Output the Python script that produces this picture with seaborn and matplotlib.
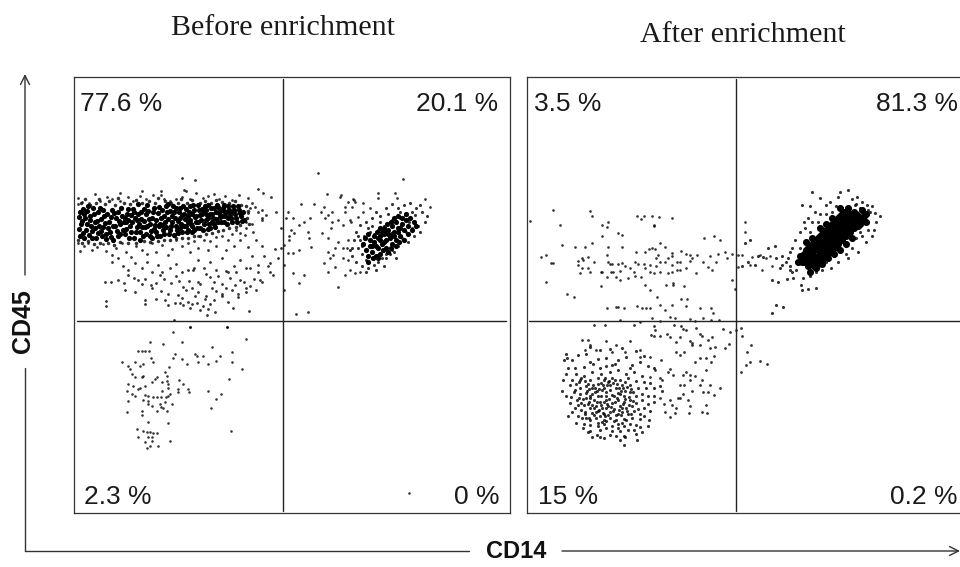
import matplotlib
matplotlib.use("Agg")
import matplotlib.pyplot as plt
import pandas as pd
import seaborn as sns

sns.set_theme(style="white")
plt.rcParams['font.family'] = ['Liberation Sans', 'DejaVu Sans']

# Event positions (scale = plot channel units)
before_band_core = [
(80,212),(81,224),(80,236),(85,218),(86,230),(88,206),(91,226),(92,238),(94,214),(97,221),(98,233),(100,208),(103,227),(104,216),(106,239),(109,222),(110,232),(112,210),(115,226),(116,218),(118,236),(121,208),(123,230),(124,222),(127,214),(129,238),(130,226),(133,209),(135,218),(136,232),(139,224),(141,212),(143,236),(145,227),(147,205),(149,219),(151,231),(153,212),(155,225),(157,236),(159,207),(161,218),(163,230),(165,222),(167,212),(169,234),(171,226),(173,206),(175,218),(177,230),(179,212),(181,224),(183,206),(185,219),(187,232),(189,212),(191,224),(193,205),(195,217),(197,228),(199,210),(201,220),(203,230),(205,206),(207,215),(209,224),(211,208),(213,218),(215,227),(217,205),(219,213),(221,222),(223,208),(225,216),(227,224),(229,210),(231,218),(233,206),(235,214),(237,222),(239,210),(241,216),(243,212),(244,220),
(83,209),(84,238),(95,228),(102,236),(113,240),(126,222),(138,204),(140,240),(152,238),(168,204),(176,226),(184,214),(192,232),(200,215),(208,229),(216,219),(224,211),(232,212),(90,220),(120,224),(146,214),(160,224),(172,216),(180,218),(188,222),(196,222),(204,212),(212,214),(220,217),(228,218),
(79,217),(79,229),(82,221),(83,233),(84,214),(87,224),(87,211),(89,235),(90,216),(92,231),(93,208),(95,222),(96,238),(98,212),(99,226),(101,219),(101,231),(103,210),(105,223),(106,234),(107,214),(108,228),(111,217),(111,237),(113,226),(114,213),(117,231),(118,212),(119,221),(120,234),(122,216),(125,234),(125,218),(126,229),(128,209),(128,220),(131,232),(131,215),(132,222),(134,238),(134,212),(137,227),(137,220),(138,214),(140,232),(141,219),(142,227),(144,209),(144,221),(146,234),(147,226),(148,211),(150,224),(150,236),(152,218),(154,229),(154,208),(156,220),(156,232),(158,213),(159,226),(160,236),(162,210),(162,225),(164,216),(164,234),(166,227),(166,206),(168,219),(170,211),(170,230),(172,222),(174,235),(174,212),(176,208),(178,221),(178,233),(180,208),(180,228),(182,215),(182,232),(184,226),(186,209),(186,226),(188,216),(188,230),(190,206),(190,220),(192,214),(192,226),(194,210),(194,230),(196,216),(198,205),(198,222),(200,228),(202,209),(202,214),(204,224),(206,210),(206,220),(208,205),(208,218),(210,214),(210,228),(212,222),(214,208),(214,224),(216,212),(218,207),(218,222),(220,211),(222,216),(224,205),(224,222),(226,212),(228,206),(230,214),(232,222),(234,210),(236,218),(238,206),(240,213),(242,221),
]
before_band_fringe = [
(81,203),(85,199),(90,205),(96,203),(99,199),(105,204),(109,201),(115,205),(118,198),(124,203),(130,204),(136,200),(142,203),(149,201),(155,203),(158,198),(165,201),(171,203),(178,203),(181,199),(187,203),(192,200),(200,203),(205,201),(211,203),(216,200),(222,202),(229,203),(235,201),(241,205),(246,206),(248,211),(247,218),(249,224),(240,225),(236,227),(229,228),(223,230),(218,231),(212,233),(206,234),(200,236),(194,236),(188,238),(182,238),(176,238),(170,240),(164,240),(158,241),(150,242),(144,241),(136,243),(128,243),(120,242),(114,245),(108,243),(100,243),(94,244),(88,241),(82,243),(78,240),
]
before_band_halo = [
(78,198),(78,204),(82,202),(89,203),(95,194),(100,201),(107,197),(112,199),(120,201),(128,197),(133,201),(140,196),(146,199),(153,195),(161,195),(164,199),(170,201),(176,199),(182,197),(186,191),(190,199),(196,193),(203,198),(208,196),(214,194),(219,199),(225,196),(232,200),(239,195),(248,198),(252,203),(258,189),(263,193),(271,197),(182,178),(195,180),(184,190),(161,191),(120,193),(142,191),
(250,208),(255,207),(248,213),(258,212),(262,210),(246,222),(252,224),(262,218),(266,215),(276,212),(281,228),(246,228),(253,232),(262,220),(245,235),(240,233),(236,230),(232,234),
(78,243),(80,251),(84,246),(88,243),(92,250),(97,247),(103,244),(106,251),(112,255),(116,248),(122,243),(126,252),(131,257),(136,246),(142,250),(147,254),(152,243),(156,252),(162,245),(168,255),(172,249),(176,240),(182,246),(188,243),(194,241),(198,236),(204,240),(210,241),(216,237),(222,236),(228,240),(234,246),(240,240),(248,247),(256,240),(262,246),(275,249),(281,248),(190,252),(198,248),(208,250),(216,246),(226,250),
]
before_lower_scatter = [
(112,262),(118,258),(123,266),(128,270),(135,263),(142,268),(147,262),(152,272),(158,265),(162,272),(170,268),(176,264),(182,272),(188,270),(194,268),(198,260),(204,268),(210,262),(216,270),(222,258),(228,272),(234,266),(240,260),(246,268),(252,256),(258,265),(264,256),(270,263),(278,258),(284,265),
(111,282),(118,280),(124,283),(128,275),(134,278),(138,280),(145,279),(151,285),(156,283),(160,275),(164,279),(171,283),(176,276),(179,281),(183,287),(189,281),(193,270),(198,282),(200,284),(206,274),(210,277),(214,282),(218,276),(222,284),(226,271),(230,278),(236,272),(240,280),(244,282),(250,268),(254,279),(258,272),(262,282),(268,266),(270,272),(273,275),
(105,282),(125,290),(135,292),(142,284),(152,288),(161,291),(168,294),(178,295),(186,290),(192,288),(198,292),(206,296),(212,288),(216,291),(222,294),(226,288),(232,290),(238,294),(246,288),(250,286),(256,290),(260,280),(235,285),(182,298),(156,299),(168,305),(188,302),(195,296),(205,299),(214,300),(222,296),(228,302),(238,297),(246,292),(233,308),
(106,301),(106,306),(145,300),(145,304),(165,300),(175,303),(180,303),(183,305),(190,308),(192,304),(197,303),(200,310),(203,306),(208,309),(210,304),(207,315),(215,312),(249,311),(174,320),(190,327),(227,327),
]
before_lower_left = [
(190,327),(227,327),(173,332),(246,339),(150,342),(163,344),(182,342),(212,347),(138,351),(142,351),(145,351),(149,351),(232,352),(151,358),(175,354),(173,358),(182,359),(195,354),(197,356),(203,356),(220,356),(216,361),(232,362),(198,362),(208,364),(187,364),(122,362),(128,366),(135,362),(140,366),(143,364),(153,362),(130,369),(169,367),(242,369),(165,372),(132,374),(135,377),(142,377),(143,376),(167,376),(157,377),(155,379),(152,382),(167,381),(162,382),(179,380),(183,384),(229,379),(168,384),(128,384),(133,386),(140,388),(145,386),(138,389),(127,391),(162,391),(168,388),(178,389),(178,392),(188,389),(189,392),(208,391),(221,394),(132,394),(135,396),(145,395),(148,396),(153,397),(157,397),(161,397),(166,397),(168,396),(170,394),(128,401),(143,400),(148,401),(165,402),(216,399),(148,404),(152,406),(160,404),(172,404),(161,407),(163,408),(157,411),(167,411),(211,408),(127,412),(142,411),(142,415),(148,422),(168,423),(137,429),(143,431),(147,432),(150,432),(153,433),(157,433),(231,431),(138,437),(148,437),(152,437),(145,442),(152,441),(170,441),(150,446),(147,448),(158,446),(409,493),
]
before_mid_sparse = [
(318,173),(403,179),(327,194),(341,195),(340,197),(354,200),(355,202),(353,199),(378,193),(378,198),(395,193),(397,198),(425,199),(430,207),(301,204),(314,204),(288,212),(286,218),(293,218),(310,218),(324,207),(321,212),(328,215),(332,212),(325,218),(332,222),(338,220),(343,225),(350,220),(351,222),(358,217),(345,207),(348,202),(352,207),(345,212),(363,203),(363,212),(370,208),(304,222),(299,225),(291,230),(294,233),(308,232),(289,236),(289,240),(309,238),(322,233),(328,238),(331,228),(284,245),(311,247),(288,253),(293,253),(299,250),(338,242),(348,240),(335,248),(343,248),(347,248),(328,252),(333,255),(330,258),(324,263),(343,258),(348,260),(335,267),(328,272),(350,270),(345,275),(355,273),(360,272),(293,273),(304,275),(299,283),(338,287),(284,290),(296,314),(308,312),
]
before_blob_halo = [
(360,225),(366,222),(372,218),(376,212),(380,216),(386,208),(392,204),(398,208),(404,205),(410,203),(416,208),(422,212),(427,216),(420,205),(372,226),(380,222),(388,214),(400,212),(412,212),(425,222),(418,226),(412,228),(420,232),(406,232),(414,236),(408,242),(402,238),(398,246),(392,250),(386,254),(382,258),(378,262),(374,265),(368,268),(362,266),(356,262),(352,256),(360,240),(364,236),(358,236),(354,240),(358,248),(352,248),(362,254),(366,260),(372,258),(384,266),(390,254),(394,252),(376,270),(366,272),(386,258),(396,258),(356,232),(350,250),(368,228),(378,230),(362,246),(409,222),(405,215),(392,220),(384,226),(374,234),(370,232),(400,218),(415,215),
]
before_blob_core = [
(366,250),(370,246),(374,242),(378,238),(372,252),(378,248),(382,244),(386,240),(390,236),(394,232),(398,228),(402,224),(406,220),(410,218),(384,234),(388,230),(392,226),(396,222),(400,236),(396,240),(392,244),(386,248),(380,254),(376,256),(370,240),(382,232),(404,230),(408,226),(390,238),(384,242),(376,246),(368,256),(372,246),(394,236),(400,228),(388,234),(380,240),(414,222),
(363,244),(365,238),(368,234),(374,236),(377,232),(380,228),(384,228),(387,224),(391,222),(394,218),(398,216),(402,218),(406,214),(368,262),(373,258),(378,258),(383,250),(388,252),(391,248),(396,246),(399,242),(404,240),(408,234),(412,230),(416,226),(380,236),(386,232),(392,234),(398,232),
]

after_mid_sparse = [
(553,210),(590,211),(592,216),(530,221),(560,225),(602,225),(608,222),(607,227),(602,236),(618,233),(622,235),(637,216),(641,219),(644,216),(652,216),(659,217),(654,226),(654,225),(672,218),(562,245),(585,247),(592,243),(546,255),(541,257),(575,247),(578,261),(582,258),(583,260),(588,257),(608,247),(607,255),(622,247),(594,262),(608,262),(610,264),(622,263),(636,252),(645,252),(649,249),(652,248),(655,249),(660,243),(658,255),(665,247),(672,253),(672,256),(681,251),(686,254),(704,238),(714,236),(720,240),(551,263),(553,263),(578,265),(582,268),(588,268),(580,273),(602,272),(612,264),(618,264),(625,266),(630,268),(635,262),(638,264),(644,264),(650,265),(656,266),(656,258),(660,262),(665,262),(668,258),(672,265),(677,262),(680,262),(690,261),(690,255),(692,258),(697,255),(703,262),(708,267),(712,270),(716,262),(710,256),(718,254),(727,258),(725,252),(732,254),(590,272),(601,272),(611,272),(620,271),(616,277),(613,272),(634,272),(635,276),(645,268),(650,272),(654,273),(660,272),(668,273),(672,272),(677,270),(680,270),(686,268),(696,273),(546,282),(601,286),(607,277),(620,280),(628,278),(641,277),(645,285),(650,290),(666,285),(673,283),(673,285),(684,286),(732,280),(567,294),(574,297),(607,308),(616,307),(618,307),(624,308),(637,306),(642,308),(646,308),(650,308),(657,297),(660,305),(665,310),(672,305),(681,299),(686,306),(687,299),(700,308),(711,308),(713,313),(735,289),(652,318),(670,317),(675,318),(690,319),(703,318),(711,320),(719,320),(745,222),(738,255),(742,255),(752,257),(760,255),(766,258),(770,256),(738,267),(750,265),(762,270),(772,266),(745,232),
(620,320),(640,322),(660,321),(695,321),
]
after_lower_sparse = [
(594,325),(605,325),(634,325),(654,326),(655,330),(674,325),(681,326),(683,329),(686,330),(696,328),(700,334),(723,329),(730,332),(741,328),(651,335),(654,336),(660,336),(667,334),(670,337),(680,337),(676,342),(692,343),(715,347),(690,341),(692,345),(700,345),(710,348),(725,348),(712,337),(708,340),(702,336),(714,356),(729,344),(747,352),(751,345),(742,336),(736,330),(750,362),(760,361),(767,364),(746,365),(741,372),(711,362),(695,362),(683,375),(670,369),(661,360),(650,357),(640,350),(630,341),(616,345),(606,341),(588,340),(582,340),(590,345),(585,350),(596,350),(612,352),(625,352),(640,357),(676,352),(684,352),(680,355),(700,358),(706,358),(706,370),(690,375),(690,380),(684,385),(680,385),(673,375),(668,372),(655,370),(650,377),(660,378),(662,380),(686,372),(695,376),(702,380),(710,385),(708,392),(703,392),(700,385),(692,391),(683,394),(678,398),(670,400),(660,398),(664,404),(672,405),(688,400),(690,406),(665,412),(670,417),(680,398),(706,405),(689,413),(675,413),(676,408),(702,412),(714,395),(720,388),(707,413),
]
after_lower_cluster = [
(566,354),(567,358),(564,360),(572,360),(578,355),(586,354),(590,362),(598,359),(606,358),(612,365),(618,360),(626,357),(632,365),(640,362),(648,366),(654,368),(644,356),(636,351),(622,348),(610,349),(600,350),(590,347),(575,368),(584,367),(592,372),(600,368),(610,372),(618,370),(626,374),(634,372),(642,376),(650,383),(576,374),(584,376),(590,380),(598,378),(604,380),(612,378),(620,380),(628,378),(636,381),(644,382),(572,380),(570,385),(576,384),(580,388),(586,386),(592,388),(598,384),(604,388),(610,385),(616,388),(622,385),(630,385),(638,388),(646,388),(654,388),(660,386),(662,391),(580,394),(586,393),(590,396),(595,392),(601,396),(606,392),(612,395),(618,393),(624,396),(630,392),(636,396),(642,394),(648,396),(654,396),(574,392),(571,397),(577,400),(583,399),(589,402),(594,400),(600,402),(606,400),(612,403),(618,400),(624,402),(630,400),(636,403),(642,400),(648,404),(654,402),(570,403),(578,405),(584,405),(590,408),(596,406),(602,408),(608,406),(614,409),(620,406),(626,408),(632,406),(638,409),(644,408),(585,412),(592,413),(598,411),(604,414),(610,412),(616,415),(622,412),(628,414),(634,411),(640,414),(650,411),(581,410),(578,416),(582,418),(589,418),(596,418),(604,420),(610,418),(616,420),(624,419),(632,418),(640,419),(644,416),(649,420),(584,424),(590,425),(598,423),(604,424),(612,426),(618,424),(624,426),(630,424),(636,425),(640,427),(648,426),(576,423),(583,428),(600,430),(606,428),(612,431),(620,431),(628,430),(634,430),(590,431),(597,435),(610,435),(616,436),(624,436),(636,434),(642,432),(588,432),(592,437),(600,437),(604,438),(620,440),(625,437),(637,440),(624,445),(568,368),(566,374),(563,380),(562,391),(566,396),(575,408),(572,412),(568,416),(593,364),(606,366),(630,368),(615,364),(601,374),(580,380),(588,384),(608,382),(614,396),(604,402),(598,396),(592,394),(602,390),(610,390),(596,412),(606,408),(618,414),(622,408),(590,398),(625,391),(620,394),(575,390),(585,414),(600,416),(606,396),
(579,382),(581,378),(585,381),(587,391),(589,389),(593,385),(595,388),(597,391),(599,389),(601,383),(603,385),(605,378),(607,385),(609,381),(613,383),(615,380),(617,384),(619,388),(621,391),(623,388),(625,382),(627,387),(629,397),(631,389),(633,392),(579,398),(581,403),(586,398),(588,404),(592,405),(594,408),(597,402),(599,410),(601,405),(603,413),(605,416),(607,404),(609,399),(611,407),(613,411),(615,402),(617,398),(619,410),(621,415),(623,404),(625,399),(627,411),(629,405),(631,414),(633,401),(586,418),(590,420),(594,415),(598,426),(602,422),(606,421),(608,415),(614,421),(618,428),(622,423),(626,420),
]
after_blob_halo = [
(812,192),(840,192),(848,190),(857,197),(856,204),(862,202),(867,205),(870,212),(875,213),(872,206),(868,210),(860,208),(852,199),(838,197),(830,202),(826,205),(820,198),(810,206),(802,205),(808,218),(815,212),(820,214),(826,214),(832,212),(836,206),(842,208),(848,207),(855,205),(804,222),(812,222),(818,222),(805,228),(810,232),(800,232),(795,240),(792,248),(790,252),(788,258),(786,262),(790,266),(796,270),(782,265),(780,268),(772,280),(778,282),(787,279),(793,278),(801,285),(803,278),(810,276),(816,272),(822,270),(831,268),(838,262),(846,254),(852,248),(858,252),(856,238),(862,236),(868,230),(874,230),(876,222),(880,216),(860,232),(848,258),(816,288),(808,289),(802,290),(776,305),(783,307),(772,313),(745,243),(750,240),(758,256),(768,248),(775,246),(776,258),(763,257),(755,265),(748,262),(742,266),(790,270),(782,256),(800,248),(796,262),(792,272),(810,270),(826,262),(872,236),(866,242),
]
after_blob_core = [
(802,262),(806,258),(810,254),(814,250),(818,246),(822,242),(826,238),(830,234),(834,230),(838,226),(842,222),(846,218),(850,214),(854,212),(858,216),(862,218),(866,214),(808,266),(812,262),(816,258),(820,254),(824,250),(828,246),(832,242),(836,238),(840,234),(844,230),(848,226),(852,222),(856,220),(860,224),(804,254),(808,248),(812,244),(816,240),(820,236),(824,232),(828,228),(832,224),(836,220),(840,216),(844,212),(848,208),(818,264),(822,260),(826,256),(830,252),(834,248),(838,244),(842,240),(846,236),(850,232),(854,228),(858,226),(800,256),(798,262),(810,272),(816,268),(822,264),(828,258),(834,254),(840,250),(846,244),(852,238),(862,210),(866,222),(812,238),(806,242),(820,228),(826,224),(832,218),(840,208),
(804,262),(808,258),(812,252),(816,248),(820,244),(824,240),(828,236),(832,232),(836,228),(840,224),(844,220),(848,216),(852,218),(856,214),(860,220),(864,216),(814,266),(818,258),(822,252),(826,248),(830,244),(834,240),(838,236),(842,232),(846,228),(850,224),(854,222),(858,220),(810,260),(814,256),(818,250),(822,246),(826,242),(830,238),(834,234),(838,230),(842,226),(846,222),(850,218),(854,216),(806,250),(810,246),(814,242),(818,238),(822,234),(826,230),(830,226),(834,222),(838,218),(842,214),(846,212),(820,262),(824,256),(828,252),(832,248),(836,244),(840,240),(844,236),(848,232),(852,228),(856,226),
]

titles = ["Before enrichment", "After enrichment"]
quadrant_left = ["77.6 %", "20.1 %", "2.3 %", "0 %"]
quadrant_right = ["3.5 %", "81.3 %", "15 %", "0.2 %"]


def frame(points):
    return pd.DataFrame(points, columns=["x", "y"])


W, H = 960, 567
fig = plt.figure(figsize=(W / 100, H / 100), dpi=100)
ax_l = fig.add_axes([74 / W, 1 - 513 / H, (510 - 74) / W, (513 - 77) / H])
ax_r = fig.add_axes([527 / W, 1 - 513 / H, (962 - 527) / W, (513 - 77) / H])

layers = {
    ax_l: [(before_band_halo, 4.0), (before_lower_scatter, 4.0), (before_lower_left, 3.4),
           (before_mid_sparse, 3.8), (before_blob_halo, 5.0), (before_band_fringe, 6.5),
           (before_band_core, 14), (before_blob_core, 14)],
    ax_r: [(after_mid_sparse, 3.6), (after_lower_sparse, 4.0), (after_lower_cluster, 5.0),
           (after_blob_halo, 5.0), (after_blob_core, 26)],
}
for ax, groups in layers.items():
    for pts, size in groups:
        alpha = 1.0 if size > 10 else 0.8
        sns.scatterplot(data=frame(pts), x="x", y="y", ax=ax, color="black", s=size,
                        linewidth=0, alpha=alpha, legend=False, zorder=2)

ax_l.set_xlim(74, 510); ax_r.set_xlim(527, 962)
for ax in (ax_l, ax_r):
    ax.set_ylim(513, 77)
    ax.set_xticks([]); ax.set_yticks([])
    ax.set_xlabel(""); ax.set_ylabel("")
    for s in ax.spines.values():
        s.set_linewidth(0.9); s.set_color("#333333")
ax_l.plot([77, 506], [321, 321], color="#222222", lw=1, zorder=3)
ax_l.plot([283, 283], [79, 511], color="#222222", lw=1, zorder=3)
ax_r.plot([529, 962], [321, 321], color="#222222", lw=1, zorder=3)
ax_r.plot([736, 736], [79, 511], color="#222222", lw=1, zorder=3)


def px(x, y):
    return x / W, 1 - y / H


left_kw = dict(fontsize=19, color="#1a1a1a", ha="left", va="center")
right_kw = dict(fontsize=19, color="#1a1a1a", ha="right", va="center")
fig.text(*px(80, 104), quadrant_left[0], **left_kw)
fig.text(*px(498, 104), quadrant_left[1], **right_kw)
fig.text(*px(84, 497), quadrant_left[2], **left_kw)
fig.text(*px(499, 497), quadrant_left[3], **right_kw)
fig.text(*px(534, 104), quadrant_right[0], **left_kw)
fig.text(*px(958, 104), quadrant_right[1], **right_kw)
fig.text(*px(538, 497), quadrant_right[2], **left_kw)
fig.text(*px(958, 497), quadrant_right[3], **right_kw)

fig.text(*px(283, 28), titles[0], family="Liberation Serif", fontsize=21.6, ha="center", va="center", color="#1a1a1a")
fig.text(*px(743, 35), titles[1], family="Liberation Serif", fontsize=21.6, ha="center", va="center", color="#1a1a1a")

# Outer axes arrows
arrow = dict(arrowstyle="->", color="#333333", lw=1, mutation_scale=16, shrinkA=0, shrinkB=0)
fig.add_artist(matplotlib.patches.FancyArrowPatch(px(25, 275), px(25, 74), transform=fig.transFigure, **arrow))
fig.add_artist(matplotlib.patches.FancyArrowPatch(px(562, 551), px(960, 551), transform=fig.transFigure, **arrow))
fig.add_artist(plt.Line2D([25 / W, 25 / W], [1 - 551 / H, 1 - 368 / H], color="#333333", lw=1))
fig.add_artist(plt.Line2D([25 / W, 469 / W], [1 - 551 / H, 1 - 551 / H], color="#333333", lw=1))
fig.text(*px(516, 552), "CD14", fontsize=17, fontweight="bold", ha="center", va="center", color="#111111")
fig.text(*px(23, 321), "CD45", fontsize=18, fontweight="bold", rotation=90, ha="center", va="center", color="#111111")

fig.savefig("out.png", dpi=100)
